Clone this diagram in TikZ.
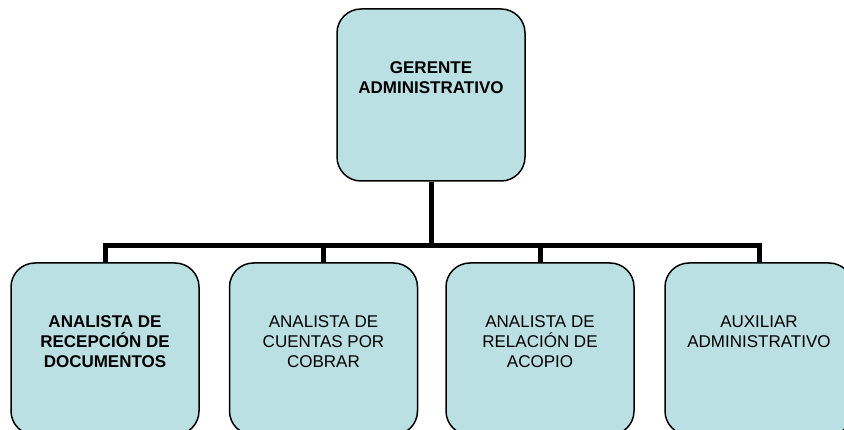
\documentclass[tikz,border=0pt]{standalone}
\usepackage{fontspec}
\setmainfont{Liberation Sans}
\definecolor{boxfill}{HTML}{BBE0E3}
\begin{document}
\begin{tikzpicture}[x=1pt,y=-1pt,
  orgbox/.style={draw=black, line width=1.5pt, fill=boxfill, rounded corners=24pt,
    minimum width=188pt, minimum height=172pt, inner sep=0pt},
  orgtext/.style={anchor=north, align=center, inner sep=0pt,
    font=\fontsize{17}{20}\selectfont},
  conn/.style={line width=5pt, line join=miter, draw=black}]
\useasboundingbox (0,0) rectangle (844,430);
\node[orgbox] (g) at (431,95) {};
\node[orgbox] (b1) at (105,349) {};
\node[orgbox] (b2) at (323.5,349) {};
\node[orgbox] (b3) at (540,349) {};
\node[orgbox] (b4) at (759,349) {};
\node[orgtext, font=\fontsize{17}{20}\selectfont\bfseries] (tg) at ([yshift=-53pt]g.north) {GERENTE\\ADMINISTRATIVO};
\node[orgtext, font=\fontsize{17}{20}\selectfont\bfseries] (t1) at ([yshift=-53pt]b1.north) {ANALISTA DE\\RECEPCIÓN DE\\DOCUMENTOS};
\node[orgtext] (t2) at ([yshift=-53pt]b2.north) {ANALISTA DE\\CUENTAS POR\\COBRAR};
\node[orgtext] (t3) at ([yshift=-53pt]b3.north) {ANALISTA DE\\RELACIÓN DE\\ACOPIO};
\node[orgtext] (t4) at ([yshift=-53pt]b4.north) {AUXILIAR\\ADMINISTRATIVO};
\coordinate (bar) at (0,246);
\draw[conn] (g.south) -- (g.south |- bar);
\draw[conn] (b1.north) -- (b1.north |- bar) -- (b4.north |- bar) -- (b4.north);
\draw[conn] (b2.north) -- (b2.north |- bar);
\draw[conn] (b3.north) -- (b3.north |- bar);
\end{tikzpicture}
\end{document}
